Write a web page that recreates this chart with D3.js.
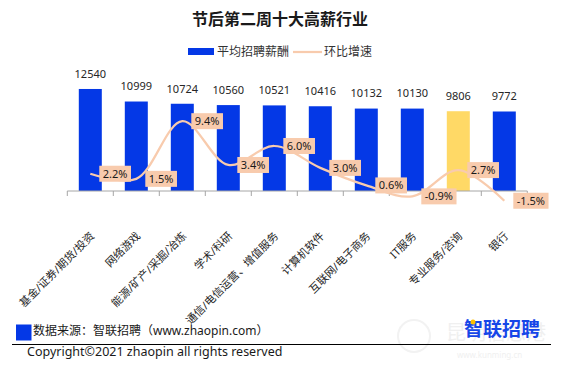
<!DOCTYPE html>
<html>
<head>
<meta charset="utf-8">
<script src="https://cdn.jsdelivr.net/npm/d3@7"></script>
<style>
  body { margin: 0; background: #fff; }
  svg { display: block; font-family: "Noto Sans", "Noto Sans CJK SC", sans-serif; }
</style>
</head>
<body>
<svg id="chart" width="561" height="371"></svg>
<script>
// Daten
var categories = ["基金/证券/期货/投资", "网络游戏", "能源/矿产/采掘/冶炼", "学术/科研", "通信/电信运营、增值服务",
                  "计算机软件", "互联网/电子商务", "IT服务", "专业服务/咨询", "银行"];
var salaries = [12540, 10999, 10724, 10560, 10521, 10416, 10132, 10130, 9806, 9772];
var growth = [2.2, 1.5, 9.4, 3.4, 6.0, 3.0, 0.6, -0.9, 2.7, -1.5];
var seriesNames = ["平均招聘薪酬", "环比增速"];

var blue = "#0438e6", gold = "#ffd966", peach = "#f8cbad";
var svg = d3.select("#chart");

// Skalen
var x = d3.scaleBand().domain(categories).range([67.3, 527.3]).paddingInner(0.5).paddingOuter(0.25);
var y = d3.scaleLinear().domain([0, 14000]).range([191, 77.1]);
var y2 = d3.scaleLinear().domain([-2, 12]).range([204.4, 102.2]);
var cx = function(d) { return x(d) + x.bandwidth() / 2; };

// Titel
svg.append("text").attr("x", 280).attr("y", 25).attr("text-anchor", "middle")
    .style("font-size", "16px").style("font-weight", "bold").attr("fill", "#1a1a1a")
    .text("节后第二周十大高薪行业");

// Legende
svg.append("rect").attr("x", 188).attr("y", 48).attr("width", 26).attr("height", 7).attr("fill", blue);
svg.append("text").attr("x", 217).attr("y", 52).attr("dy", "0.35em").style("font-size", "12px")
    .attr("fill", "#333").text(seriesNames[0]);
svg.append("line").attr("x1", 293).attr("x2", 322).attr("y1", 52).attr("y2", 52)
    .attr("stroke", peach).attr("stroke-width", 2.25);
svg.append("text").attr("x", 324).attr("y", 52).attr("dy", "0.35em").style("font-size", "12px")
    .attr("fill", "#333").text(seriesNames[1]);

// Wasserzeichen (blass, hinter allem)
svg.append("circle").attr("cx", 414).attr("cy", 336).attr("r", 16)
    .attr("fill", "none").attr("stroke", "#f2f2f2").attr("stroke-width", 2);
svg.append("text").attr("x", 446).attr("y", 340).style("font-size", "20px")
    .attr("fill", "#f0f0f0").text("昆明信息港");
svg.append("text").attr("x", 457).attr("y", 358).style("font-size", "8px")
    .attr("fill", "#f0f0f0").text("www.kunming.cn");

// Balken
svg.selectAll("rect.bar")
    .data(categories)
    .enter().append("rect")
    .attr("class", "bar")
    .attr("x", function(d) { return x(d); })
    .attr("y", function(d, i) { return y(salaries[i]); })
    .attr("width", x.bandwidth())
    .attr("height", function(d, i) { return y(0) - y(salaries[i]); })
    .attr("fill", function(d) { return d === "专业服务/咨询" ? gold : blue; });

svg.selectAll("text.val")
    .data(categories)
    .enter().append("text")
    .attr("class", "val")
    .attr("x", cx)
    .attr("y", function(d, i) { return y(salaries[i]) - 15; })
    .attr("dy", "0.35em")
    .attr("text-anchor", "middle")
    .style("font-size", "11px")
    .attr("fill", "#262626")
    .text(function(d, i) { return salaries[i]; });

// Achse
var step = x.step(), x0 = x.range()[0];
svg.append("line").attr("x1", x0).attr("x2", x.range()[1]).attr("y1", y(0)).attr("y2", y(0))
    .attr("stroke", "#a6a6a6").attr("stroke-width", 1);
svg.selectAll("line.tick")
    .data(d3.range(categories.length + 1))
    .enter().append("line")
    .attr("class", "tick")
    .attr("x1", function(i) { return x0 + i * step; })
    .attr("x2", function(i) { return x0 + i * step; })
    .attr("y1", y(0)).attr("y2", y(0) + 5)
    .attr("stroke", "#a6a6a6");

svg.selectAll("text.cat")
    .data(categories)
    .enter().append("text")
    .attr("class", "cat")
    .attr("transform", function(d) { return "translate(" + (cx(d) + 2) + ",234) rotate(-45)"; })
    .attr("dy", "0.35em")
    .attr("text-anchor", "end")
    .style("font-size", "11px")
    .attr("fill", "#262626")
    .text(function(d) { return d; });

// Linie
var line = d3.line()
    .x(function(d) { return cx(d); })
    .y(function(d, i) { return y2(growth[i]); })
    .curve(d3.curveCatmullRom.alpha(0.5));
svg.append("path").datum(categories).attr("d", line)
    .attr("fill", "none").attr("stroke", peach).attr("stroke-width", 2.25);

// Prozent-Etiketten
var lab = svg.selectAll("g.lab")
    .data(categories)
    .enter().append("g")
    .attr("class", "lab")
    .attr("transform", function(d, i) { return "translate(" + (cx(d) + 9) + "," + y2(growth[i]) + ")"; });
var box = lab.append("rect").attr("fill", peach);
var txt = lab.append("text")
    .attr("x", 3.5).attr("dy", "0.35em")
    .style("font-size", "11px")
    .attr("fill", "#1a1a1a")
    .text(function(d, i) { return growth[i].toFixed(1) + "%"; });
txt.each(function(d, i) {
    var w = this.getComputedTextLength();
    d3.select(box.nodes()[i]).attr("x", 0).attr("y", -8).attr("width", w + 7).attr("height", 16);
});

// Fusszeile
svg.append("rect").attr("x", 16).attr("y", 324.5).attr("width", 15.5).attr("height", 16).attr("fill", blue);
svg.append("text").attr("x", 33).attr("y", 331).attr("dy", "0.35em").style("font-size", "12px")
    .attr("fill", "#1a1a1a").text("数据来源：智联招聘（www.zhaopin.com）");
svg.append("text").attr("x", 502).attr("y", 329).attr("dy", "0.35em").attr("text-anchor", "middle")
    .style("font-size", "19px").style("font-weight", "bold").attr("fill", "#1646e8").text("智联招聘");
svg.append("circle").attr("cx", 473).attr("cy", 322).attr("r", 2.5).attr("fill", "#ffc000");
svg.append("line").attr("x1", 12).attr("x2", 551).attr("y1", 344.5).attr("y2", 344.5)
    .attr("stroke", "#000").attr("stroke-width", 1.2);
svg.append("text").attr("x", 27).attr("y", 352).attr("dy", "0.35em").style("font-size", "12.5px")
    .attr("fill", "#1a1a1a").text("Copyright©2021 zhaopin all rights reserved");
</script>
</body>
</html>
